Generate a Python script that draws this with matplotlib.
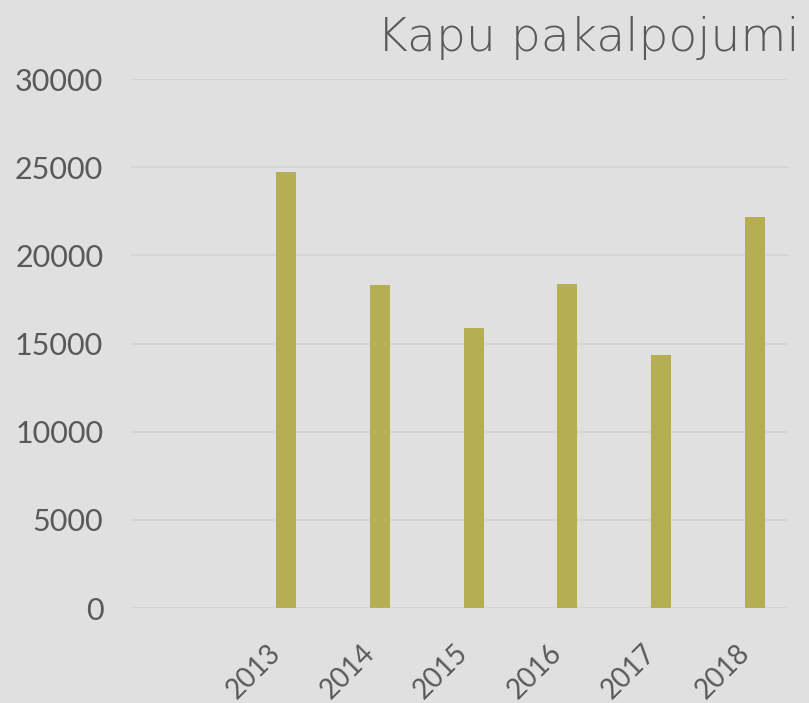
import matplotlib
matplotlib.use("Agg")
import matplotlib.pyplot as plt
import numpy as np

years = ["2013", "2014", "2015", "2016", "2017", "2018"]
values = [24700, 18300, 15900, 18400, 14350, 22200]

bg = "#E0E0E0"
bar_color = "#B5AE52"
text_color = "#595959"
grid_color = "#D2D2D2"

plt.rcParams['font.family'] = ['Lato', 'DejaVu Sans']

fig = plt.figure(figsize=(8.09, 7.03), dpi=100)
fig.patch.set_facecolor(bg)
ax = fig.add_axes([0.162, 0.1351, 0.812, 0.7525])
ax.set_facecolor(bg)

x = np.arange(len(years))
ax.bar(x, values, width=0.213, color=bar_color, zorder=3)

ax.set_ylim(0, 30000)
ax.set_yticks(range(0, 30001, 5000))
ax.set_xlim(-1.652, 5.352)
ax.set_xticks(x - 0.2)
ax.set_xticklabels(years, rotation=45, ha="right", va="top", rotation_mode="anchor")

ax.grid(axis="y", color=grid_color, linewidth=1.2, zorder=0)
for s in ax.spines.values():
    s.set_visible(False)
ax.tick_params(axis="both", length=0, colors=text_color, labelsize=22)
ax.tick_params(axis="y", pad=20)
ax.tick_params(axis="x", pad=23, labelsize=20)

fig.text(0.989, 0.928, "Kapu pakalpojumi", ha="right", va="baseline",
         fontsize=34, color=text_color, family="DejaVu Sans", weight="light")

fig.savefig("out.png", dpi=100, facecolor=bg)
